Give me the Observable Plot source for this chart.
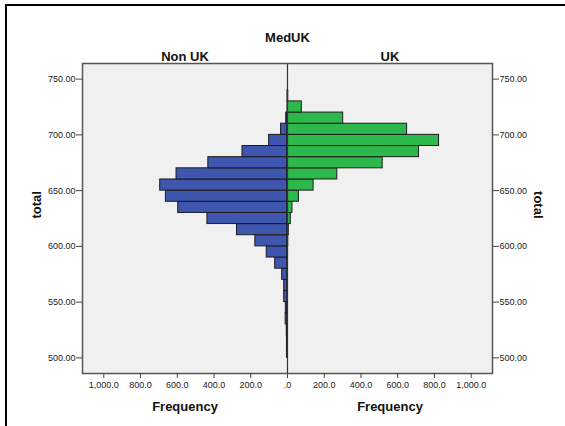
<!DOCTYPE html>
<html>
<head>
<meta charset="utf-8">
<script src="https://cdn.jsdelivr.net/npm/d3@7"></script>
<script src="https://cdn.jsdelivr.net/npm/@observablehq/plot@0.6"></script>
<style>
  html, body { margin: 0; padding: 0; background: #fff; }
  #wrap { position: relative; width: 565px; height: 426px; overflow: hidden; }
  #border { position: absolute; left: 5px; top: 4px; width: 620px; height: 500px; border: 2px solid #000; }
  #chart { position: absolute; left: 0; top: 0; }
</style>
</head>
<body>
<div id="wrap"><div id="border"></div><div id="chart"></div></div>
<script>
// Histogram bins (lower edge of each 10-point bin of "total")
const binStarts = [500,510,520,530,540,550,560,570,580,590,600,610,620,630,640,650,660,670,680,690,700,710,720,730,740];
const binWidth = 10;
// Frequencies per bin
const nonUK = [3,3,4,10,9,18,18,29,67,113,175,275,436,595,662,693,604,431,245,100,35,7,0,0,0];
const uk    = [0,0,0,1,1,1,1,2,2,3,4,7,18,27,62,142,271,518,716,825,651,303,78,4,0];
const groups = ["Non UK", "UK"];
const xTicks = [-1000,-800,-600,-400,-200,0,200,400,600,800,1000];
const yTicks = [500,550,600,650,700,750];
const xMax = 1116;
const yDomain = [486, 764];

const rows = binStarts.flatMap((b, i) => [
  {y1: b, y2: b + binWidth, x1: 0, x2: -nonUK[i], g: groups[0]},
  {y1: b, y2: b + binWidth, x1: 0, x2: uk[i], g: groups[1]}
]);

const fmtX = d => d === 0 ? ".0" : d3.format(",.1f")(Math.abs(d));
const fmtY = d3.format(".2f");

const chart = Plot.plot({
  width: 565,
  height: 426,
  marginLeft: 82,
  marginRight: 73,
  marginTop: 63,
  marginBottom: 53,
  style: {fontFamily: "'Liberation Sans', Arial, sans-serif", fontSize: "9px", background: "transparent", color: "#222"},
  x: {domain: [-xMax, xMax]},
  y: {domain: yDomain},
  color: {domain: groups, range: ["#3e56ad", "#2db84b"]},
  marks: [
    Plot.frame({fill: "#f0f0f0", stroke: null}),
    Plot.rect(rows, {x1: "x1", x2: "x2", y1: "y1", y2: "y2", fill: "g", stroke: "#1c1c1c", strokeWidth: 1}),
    Plot.ruleX([0], {stroke: "#333", strokeWidth: 1.2}),
    Plot.frame({stroke: "#555", strokeWidth: 1.5}),
    Plot.axisX({ticks: xTicks, tickFormat: fmtX, tickSize: 5, tickPadding: 3, label: null, stroke: "#444"}),
    Plot.axisY({anchor: "left", ticks: yTicks, tickFormat: fmtY, tickSize: 6, tickPadding: 1, label: null, stroke: "#444"}),
    Plot.axisY({anchor: "right", ticks: yTicks, tickFormat: fmtY, tickSize: 6, tickPadding: 1, label: null, stroke: "#444"}),
    Plot.text(["MedUK"], {x: () => 0, frameAnchor: "top", lineAnchor: "middle", dy: -26, fontWeight: "bold", fontSize: 13, fill: "#111"}),
    Plot.text(groups, {x: (d, i) => (i === 0 ? -xMax / 2 : xMax / 2), frameAnchor: "top", lineAnchor: "middle", dy: -7, fontWeight: "bold", fontSize: 13, fill: "#111"}),
    Plot.text(["Frequency", "Frequency"], {x: (d, i) => (i === 0 ? -xMax / 2 : xMax / 2), frameAnchor: "bottom", lineAnchor: "middle", dy: 33, fontWeight: "bold", fontSize: 13, fill: "#111"}),
    Plot.text(["total"], {frameAnchor: "left", dx: -46, rotate: -90, fontWeight: "bold", fontSize: 13, fill: "#111"}),
    Plot.text(["total"], {frameAnchor: "right", dx: 46, rotate: 90, fontWeight: "bold", fontSize: 13, fill: "#111"})
  ]
});
document.getElementById("chart").appendChild(chart);
</script>
</body>
</html>
